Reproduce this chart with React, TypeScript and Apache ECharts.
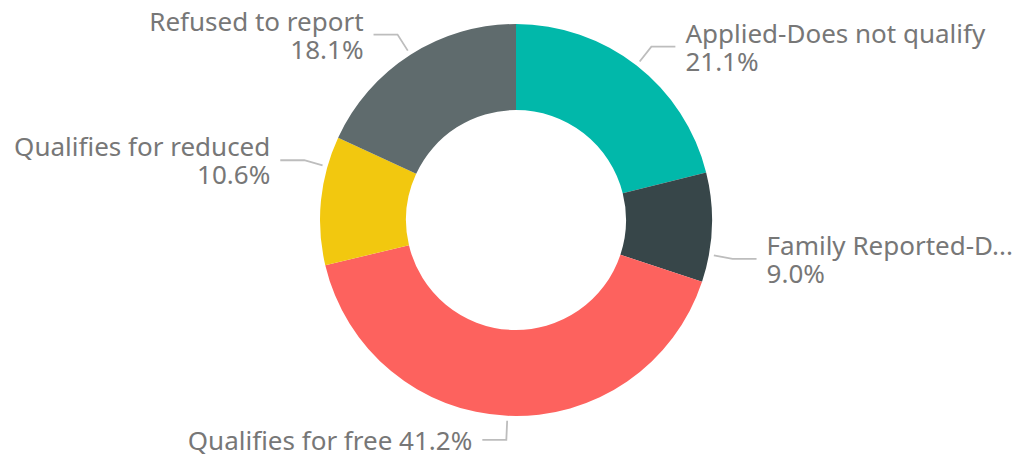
import React, { useEffect, useRef } from "react";
import * as echarts from "echarts";

const categories = [
  "Applied-Does not qualify",
  "Family Reported-D...",
  "Qualifies for free",
  "Qualifies for reduced",
  "Refused to report",
];
const values = [21.1, 9.0, 41.2, 10.6, 18.1];
const colors = ["#01B8AA", "#374649", "#FD625E", "#F2C80F", "#5F6B6D"];
const singleLineLabels = ["Qualifies for free"];
// angular nudge (degrees) of each label's leader line, to keep labels apart
const labelAngleShift = [0, 8, 0, 10, 0];

const CX = 516;
const CY = 220;
const R_IN = 110;
const R_OUT = 196;
const LINE_GAP = 5;
const LINE_LEN1 = 19;
const LINE_LEN2 = 24;
const TEXT_GAP = 10;

export default function App() {
  const ref = useRef<HTMLDivElement>(null);
  useEffect(() => {
    if (!ref.current) return;
    const chart = echarts.init(ref.current, null, { renderer: "svg" });
    const total = values.reduce((a, b) => a + b, 0);
    const midAngles: number[] = [];
    let acc = 0;
    values.forEach((v) => {
      midAngles.push(((acc + v / 2) / total) * 360);
      acc += v;
    });
    chart.setOption({
      animation: false,
      series: [
        {
          type: "pie",
          center: [CX, CY],
          radius: [R_IN, R_OUT],
          startAngle: 90,
          clockwise: true,
          data: categories.map((name, i) => ({
            name,
            value: values[i],
            itemStyle: { color: colors[i] },
          })),
          label: {
            show: true,
            position: "outside",
            color: "#777777",
            fontFamily: "Noto Sans",
            fontSize: 26,
            lineHeight: 28,
            formatter: (p: any) =>
              singleLineLabels.includes(p.name)
                ? `${p.name} ${p.value.toFixed(1)}%`
                : `${p.name}\n${p.value.toFixed(1)}%`,
          },
          labelLine: {
            show: true,
            length: LINE_LEN1,
            length2: LINE_LEN2,
            lineStyle: { color: "#BDBDBD", width: 1.8 },
          },
          labelLayout: (params: any) => {
            const i = params.dataIndex;
            const a = ((midAngles[i] + labelAngleShift[i]) * Math.PI) / 180;
            const dx = Math.sin(a);
            const dy = -Math.cos(a);
            const right = dx >= 0;
            const p0 = [CX + dx * (R_OUT + LINE_GAP), CY + dy * (R_OUT + LINE_GAP)];
            const p1 = [CX + dx * (R_OUT + LINE_GAP + LINE_LEN1), CY + dy * (R_OUT + LINE_GAP + LINE_LEN1)];
            const p2 = [p1[0] + (right ? LINE_LEN2 : -LINE_LEN2), p1[1]];
            return {
              x: p2[0] + (right ? TEXT_GAP : -TEXT_GAP),
              y: p2[1],
              align: right ? "left" : "right",
              verticalAlign: "middle",
              labelLinePoints: [p0, p1, p2],
            };
          },
        },
      ],
    });
    return () => chart.dispose();
  }, []);
  return (
    <div
      ref={ref}
      style={{ position: "fixed", left: 0, top: 0, width: 1024, height: 455, background: "#fff" }}
    />
  );
}
